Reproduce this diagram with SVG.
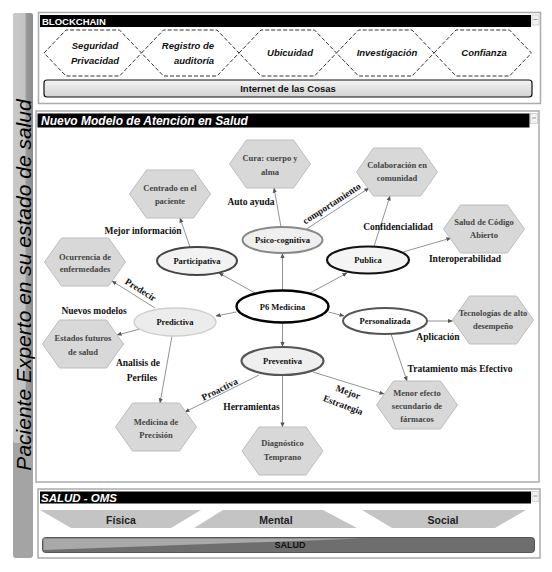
<svg xmlns="http://www.w3.org/2000/svg" width="552" height="572" viewBox="0 0 552 572">
<defs>
<style>
.panel{fill:#fff;stroke:#aaa;stroke-width:1.5}
.tbar{fill:#000}
.ttl{font-family:"Liberation Sans",Arial,sans-serif;font-weight:bold;fill:#fff}
.dhex{fill:#fff;stroke:#333;stroke-width:1;stroke-dasharray:4 2}
.dtxt{font-family:"Liberation Sans",Arial,sans-serif;font-weight:bold;font-style:italic;font-size:9.5px;fill:#111;text-anchor:middle}
.hex{fill:#d8d8d8;stroke:#bdbdbd;stroke-width:1}
.htxt{font-family:"Liberation Serif","Times New Roman",serif;font-weight:bold;font-size:8.5px;fill:#444;text-anchor:middle}
.etxt{font-family:"Liberation Serif","Times New Roman",serif;font-weight:bold;font-size:8.5px;fill:#111;text-anchor:middle}
.lbl{font-family:"Liberation Serif","Times New Roman",serif;font-weight:bold;font-size:9.5px;fill:#111;text-anchor:middle}
.con{stroke:#777;stroke-width:0.8;fill:none;marker-end:url(#ar)}
.trap{fill:#c4c4c4}
.btxt{font-family:"Liberation Sans",Arial,sans-serif;font-weight:bold;font-size:10.5px;fill:#222;text-anchor:middle}
</style>
<marker id="ar" viewBox="0 0 6 6" refX="5.5" refY="3" markerWidth="5" markerHeight="5" orient="auto" markerUnits="userSpaceOnUse">
<path d="M0,0.5 L6,3 L0,5.5 Z" fill="#555"/>
</marker>
<linearGradient id="barg" x1="0" y1="0" x2="1" y2="0">
<stop offset="0" stop-color="#c9c9c9"/>
<stop offset="0.6" stop-color="#c4c4c4"/>
<stop offset="0.66" stop-color="#9a9a9a"/>
<stop offset="1" stop-color="#8c8c8c"/>
</linearGradient>
<linearGradient id="iotg" x1="0" y1="0" x2="0" y2="1">
<stop offset="0" stop-color="#f4f4f4"/>
<stop offset="1" stop-color="#d2d2d2"/>
</linearGradient>
</defs>

<!-- Left vertical bar -->
<g id="side-bar">
<rect x="13" y="13" width="20" height="545" rx="3" fill="#a4a4a4"/>
<rect x="13" y="13" width="20" height="430" rx="3" fill="url(#barg)"/>
<text transform="translate(30.5,285) rotate(-90)" font-family="'Liberation Sans',Arial,sans-serif" font-style="italic" font-size="21" text-anchor="middle" fill="#000">Paciente Experto en su estado de salud</text>
</g>

<!-- BLOCKCHAIN panel -->
<g id="blockchain-panel">
<rect class="panel" x="38.5" y="12.5" width="502" height="91"/>
<rect class="tbar" x="40" y="15" width="491" height="12"/>
<rect x="532" y="15" width="7" height="10" fill="#f2f2f2" stroke="#bbb" stroke-width="0.6"/>
<line x1="533.5" y1="19.5" x2="537.5" y2="19.5" stroke="#999" stroke-width="1"/>
<text class="ttl" x="42" y="25" font-size="9.5">BLOCKCHAIN</text>
</g>
<g id="hex-seguridad">
<polygon class="dhex" points="44,53 66,30 119.5,30 141.5,53 119.5,76 66,76"/>
<text class="dtxt" x="95" y="48.5">Seguridad</text>
<text class="dtxt" x="95" y="64">Privacidad</text>
</g>
<g id="hex-registro">
<polygon class="dhex" points="141.5,53 163.5,30 217,30 239,53 217,76 163.5,76"/>
<text class="dtxt" x="188" y="48.5">Registro de</text>
<text class="dtxt" x="194" y="64">auditoría</text>
</g>
<g id="hex-ubicuidad">
<polygon class="dhex" points="239,53 261,30 314.5,30 336.5,53 314.5,76 261,76"/>
<text class="dtxt" x="290" y="56">Ubicuidad</text>
</g>
<g id="hex-investigacion">
<polygon class="dhex" points="336.5,53 358.5,30 412,30 434,53 412,76 358.5,76"/>
<text class="dtxt" x="387" y="56">Investigación</text>
</g>
<g id="hex-confianza">
<polygon class="dhex" points="434,53 456,30 509.5,30 531.5,53 509.5,76 456,76"/>
<text class="dtxt" x="484" y="56">Confianza</text>
</g>
<g id="iot">
<rect x="44" y="80" width="488" height="17" rx="3" fill="url(#iotg)" stroke="#111" stroke-width="1.2"/>
<text x="288" y="92" font-family="'Liberation Sans',Arial,sans-serif" font-weight="bold" font-size="9.5" text-anchor="middle" fill="#111">Internet de las Cosas</text>
</g>

<!-- Middle panel -->
<g id="modelo-panel">
<rect class="panel" x="36" y="111" width="503" height="371"/>
<rect class="tbar" x="37.5" y="113.5" width="492" height="14"/>
<rect x="530.5" y="113.5" width="7" height="10" fill="#f2f2f2" stroke="#bbb" stroke-width="0.6"/>
<line x1="532" y1="118" x2="536" y2="118" stroke="#999" stroke-width="1"/>
<text class="ttl" x="41" y="124.5" font-size="12" font-style="italic">Nuevo Modelo de Atención en Salud</text>
</g>

<!-- Connectors -->
<g id="connectors">
<line class="con" x1="282.5" y1="290.5" x2="282.5" y2="253.5"/>
<line class="con" x1="255" y1="293" x2="219" y2="273"/>
<line class="con" x1="310" y1="293" x2="347" y2="273"/>
<line class="con" x1="236.5" y1="312" x2="216" y2="316"/>
<line class="con" x1="328.5" y1="312" x2="344" y2="316"/>
<line class="con" x1="282.5" y1="322.5" x2="282.5" y2="346.5"/>
<line class="con" x1="281" y1="227" x2="274" y2="188"/>
<line class="con" x1="305" y1="230" x2="369" y2="188"/>
<line class="con" x1="374" y1="246.5" x2="390" y2="196"/>
<line class="con" x1="403" y1="252" x2="451" y2="238"/>
<line class="con" x1="190" y1="247" x2="180" y2="218"/>
<line class="con" x1="155" y1="308" x2="112" y2="281"/>
<line class="con" x1="140" y1="329" x2="117" y2="335"/>
<line class="con" x1="172" y1="336" x2="160" y2="403"/>
<line class="con" x1="259" y1="375" x2="185" y2="412"/>
<line class="con" x1="282.5" y1="375" x2="282.5" y2="427"/>
<line class="con" x1="313" y1="372" x2="384" y2="394"/>
<line class="con" x1="427" y1="321" x2="452.5" y2="321"/>
<line class="con" x1="391" y1="334" x2="407" y2="381"/>
<text class="lbl" x="251" y="205">Auto ayuda</text>
<text class="lbl" x="143" y="234">Mejor información</text>
<text class="lbl" transform="translate(334,207) rotate(-33)" x="0" y="-1">comportamiento</text>
<text class="lbl" x="398" y="230">Confidencialidad</text>
<text class="lbl" x="465" y="262">Interoperabilidad</text>
<text class="lbl" transform="translate(139,292.5) rotate(32)" x="0" y="0">Predecir</text>
<text class="lbl" x="94" y="314">Nuevos modelos</text>
<text class="lbl" x="138" y="366">Analisis de</text>
<text class="lbl" x="142" y="381">Perfiles</text>
<text class="lbl" transform="translate(221,392) rotate(-26.5)" x="0" y="0">Proactiva</text>
<text class="lbl" x="251.5" y="410">Herramientas</text>
<text class="lbl" transform="translate(347,395) rotate(20)" x="0" y="0">Mejor</text>
<text class="lbl" transform="translate(342,408) rotate(20)" x="0" y="0">Estrategia</text>
<text class="lbl" x="438" y="340">Aplicación</text>
<text class="lbl" x="460" y="372">Tratamiento más Efectivo</text>
</g>

<!-- Ellipse nodes -->
<g id="p6-medicina">
<ellipse cx="282.5" cy="306.5" rx="46" ry="16" fill="#fff" stroke="#000" stroke-width="2.5"/>
<text class="etxt" x="282.5" y="310" font-size="10">P6 Medicina</text>
</g>
<g id="psico-cognitiva">
<ellipse cx="282.5" cy="240" rx="40" ry="13" fill="#efefef" stroke="#888" stroke-width="2"/>
<text class="etxt" x="282.5" y="243">Psico-cognitiva</text>
</g>
<g id="participativa">
<ellipse cx="197" cy="261" rx="40" ry="14" fill="#f2f2f2" stroke="#444" stroke-width="2"/>
<text class="etxt" x="197" y="264">Participativa</text>
</g>
<g id="publica">
<ellipse cx="368" cy="260" rx="41" ry="13.5" fill="#f4f4f4" stroke="#111" stroke-width="2.2"/>
<text class="etxt" x="368" y="263">Publica</text>
</g>
<g id="predictiva">
<ellipse cx="175" cy="322" rx="41" ry="14" fill="#ececec" stroke="#cfcfcf" stroke-width="1.5"/>
<text class="etxt" x="175" y="325">Predictiva</text>
</g>
<g id="personalizada">
<ellipse cx="385" cy="321" rx="42" ry="13" fill="#fff" stroke="#555" stroke-width="2"/>
<text class="etxt" x="385" y="324">Personalizada</text>
</g>
<g id="preventiva">
<ellipse cx="282.5" cy="361" rx="41" ry="14" fill="#efefef" stroke="#555" stroke-width="2.2"/>
<text class="etxt" x="282.5" y="364">Preventiva</text>
</g>

<!-- Hexagon nodes -->
<g id="centrado">
<polygon class="hex" points="129.5,194 146.5,170 193.5,170 210.5,194 193.5,218 146.5,218"/>
<text class="htxt" x="170" y="190.5">Centrado en el</text>
<text class="htxt" x="170" y="203.5">paciente</text>
</g>
<g id="cura">
<polygon class="hex" points="229.5,164 246.5,140 293.5,140 310.5,164 293.5,188 246.5,188"/>
<text class="htxt" x="270" y="161">Cura: cuerpo y</text>
<text class="htxt" x="270" y="174.5">alma</text>
</g>
<g id="colaboracion">
<polygon class="hex" points="356.5,172 373.5,148 420.5,148 437.5,172 420.5,196 373.5,196"/>
<text class="htxt" x="397" y="168">Colaboración en</text>
<text class="htxt" x="397" y="181">comunidad</text>
</g>
<g id="codigo-abierto">
<polygon class="hex" points="443.5,229 460.5,205 507.5,205 524.5,229 507.5,253 460.5,253"/>
<text class="htxt" x="484" y="225">Salud de Código</text>
<text class="htxt" x="484" y="238">Abierto</text>
</g>
<g id="ocurrencia">
<polygon class="hex" points="44.5,262 61.5,238 108.5,238 125.5,262 108.5,286 61.5,286"/>
<text class="htxt" x="85" y="259.5">Ocurrencia de</text>
<text class="htxt" x="85" y="272">enfermedades</text>
</g>
<g id="estados-futuros">
<polygon class="hex" points="42.5,344 59.5,320 106.5,320 123.5,344 106.5,368 59.5,368"/>
<text class="htxt" x="83" y="341">Estados futuros</text>
<text class="htxt" x="83" y="355">de salud</text>
</g>
<g id="medicina-precision">
<polygon class="hex" points="115.5,427 132.5,403 179.5,403 196.5,427 179.5,451 132.5,451"/>
<text class="htxt" x="156" y="424.5">Medicina de</text>
<text class="htxt" x="156" y="438">Precisión</text>
</g>
<g id="diagnostico">
<polygon class="hex" points="242,451 259,427 306,427 323,451 306,475 259,475"/>
<text class="htxt" x="282.5" y="446">Diagnóstico</text>
<text class="htxt" x="282.5" y="460">Temprano</text>
</g>
<g id="tecnologias">
<polygon class="hex" points="452.5,320 469.5,296 516.5,296 533.5,320 516.5,344 469.5,344"/>
<text class="htxt" x="493" y="316" font-size="8">Tecnologías de alto</text>
<text class="htxt" x="493" y="329" font-size="8">desempeño</text>
</g>
<g id="menor-efecto">
<polygon class="hex" points="376.5,405 393.5,381 440.5,381 457.5,405 440.5,429 393.5,429"/>
<text class="htxt" x="417" y="395.5">Menor efecto</text>
<text class="htxt" x="417" y="408.5">secundario de</text>
<text class="htxt" x="417" y="421.5">fármacos</text>
</g>

<!-- SALUD - OMS panel -->
<g id="oms-panel">
<rect class="panel" x="38" y="489" width="502" height="69"/>
<rect class="tbar" x="40" y="491.5" width="491" height="12"/>
<rect x="532" y="491.5" width="7" height="10" fill="#f2f2f2" stroke="#bbb" stroke-width="0.6"/>
<line x1="533.5" y1="496" x2="537.5" y2="496" stroke="#999" stroke-width="1"/>
<text class="ttl" x="41" y="501.5" font-size="11.5" font-style="italic">SALUD - OMS</text>
</g>
<g id="fisica">
<polygon class="trap" points="40,510 201,510 171,528 71,528"/>
<text class="btxt" x="121" y="524">Física</text>
</g>
<g id="mental">
<polygon class="trap" points="223,510 323,510 357,528 194,528"/>
<text class="btxt" x="276" y="524">Mental</text>
</g>
<g id="social">
<polygon class="trap" points="362,510 526,510 495,528 392,528"/>
<text class="btxt" x="443" y="524">Social</text>
</g>
<g id="salud-bar">
<rect x="42.5" y="537.5" width="492" height="15" rx="3" fill="#6e6e6e" stroke="#555" stroke-width="1"/>
<polygon points="43.5,538.5 362,538.5 43.5,550" fill="#a9a9a9"/>
<text x="290" y="548" font-family="'Liberation Sans',Arial,sans-serif" font-weight="bold" font-size="9" text-anchor="middle" fill="#111">SALUD</text>
</g>
</svg>
